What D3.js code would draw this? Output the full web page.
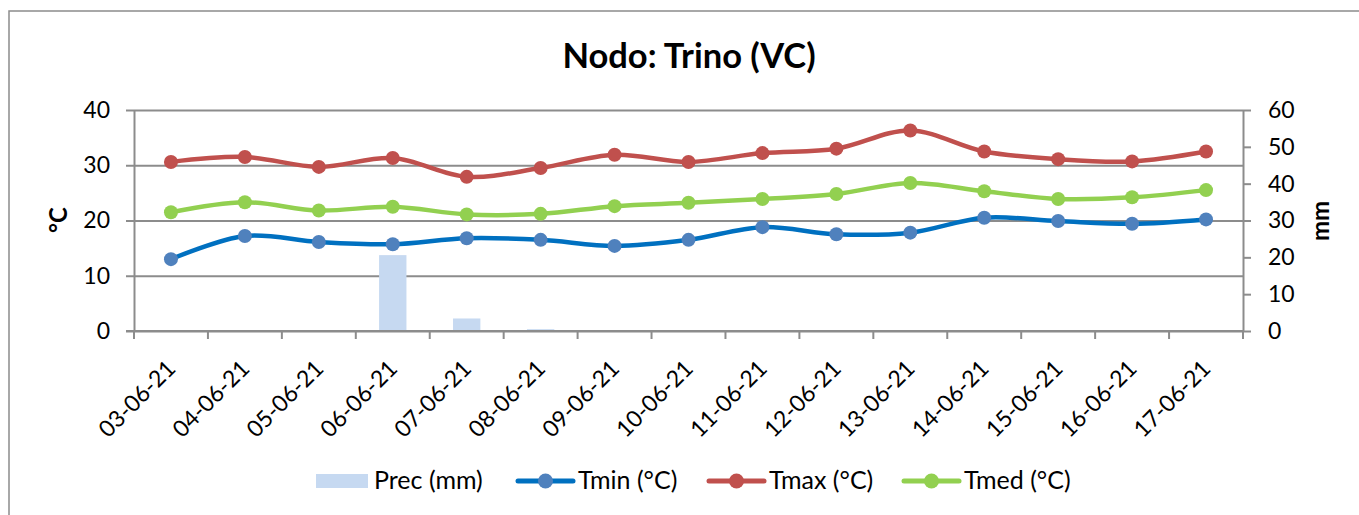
<!DOCTYPE html>
<html>
<head>
<meta charset="utf-8">
<script src="https://cdn.jsdelivr.net/npm/d3@7"></script>
<style>
  body { margin: 0; background: #fff; }
  svg { display: block; font-family: Lato, "Liberation Sans", sans-serif; }
</style>
</head>
<body>
<svg id="chart" width="1359" height="515"></svg>
<script>
// data
var dates = ["03-06-21","04-06-21","05-06-21","06-06-21","07-06-21","08-06-21","09-06-21",
             "10-06-21","11-06-21","12-06-21","13-06-21","14-06-21","15-06-21","16-06-21","17-06-21"];
var prec = [0, 0, 0, 20.6, 3.4, 0.5, 0, 0, 0, 0, 0, 0, 0, 0, 0];
var tmin = [13.0, 17.2, 16.1, 15.7, 16.8, 16.5, 15.4, 16.5, 18.8, 17.5, 17.8, 20.5, 19.9, 19.4, 20.2];
var tmax = [30.6, 31.5, 29.7, 31.3, 27.9, 29.5, 31.9, 30.6, 32.2, 33.0, 36.3, 32.5, 31.1, 30.7, 32.5];
var tmed = [21.5, 23.3, 21.8, 22.5, 21.1, 21.2, 22.6, 23.2, 23.9, 24.8, 26.8, 25.3, 23.9, 24.2, 25.5];
var leftTicks = [0, 10, 20, 30, 40];
var rightTicks = [0, 10, 20, 30, 40, 50, 60];

var series = [
  {name: "Tmin (°C)", values: tmin, line: "#0070c0", dot: "#4f81bd"},
  {name: "Tmax (°C)", values: tmax, line: "#c0504d", dot: "#c0504d"},
  {name: "Tmed (°C)", values: tmed, line: "#92d050", dot: "#92d050"}
];

var grey = "#8c8c8c";
var plot = {left: 134, right: 1243, top: 110, bottom: 331};

var svg = d3.select("#chart");

// chart border
svg.append("rect")
  .attr("x", 9).attr("y", 11)
  .attr("width", 1370).attr("height", 530)
  .attr("fill", "none")
  .attr("stroke", grey)
  .attr("stroke-width", 1.5);

svg.append("text")
  .attr("x", 689).attr("y", 68)
  .attr("text-anchor", "middle")
  .style("font-size", "34.5px")
  .style("font-weight", "bold")
  .text("Nodo: Trino (VC)");

var x = d3.scaleBand().domain(dates).range([plot.left, plot.right]);
var yL = d3.scaleLinear().domain([0, 40]).range([plot.bottom, plot.top]);
var yR = d3.scaleLinear().domain([0, 60]).range([plot.bottom, plot.top]);
var bw = x.bandwidth();

// gridlines
var grid = svg.append("g")
  .attr("transform", "translate(" + plot.left + ",0)")
  .call(d3.axisLeft(yL).tickValues(leftTicks).tickSize(-(plot.right - plot.left)).tickFormat(""));
grid.select(".domain").remove();
grid.selectAll("line").attr("stroke", grey).attr("stroke-width", 2);

// bars (right axis)
svg.append("g").selectAll("rect")
  .data(prec)
  .join("rect")
  .attr("x", function(d, i) { return x(dates[i]) + bw * 0.315; })
  .attr("width", bw * 0.37)
  .attr("y", function(d) { return yR(d); })
  .attr("height", function(d) { return plot.bottom - yR(d); })
  .attr("fill", "#c6d9f1");

// left axis
var axL = svg.append("g")
  .attr("transform", "translate(" + plot.left + ",0)")
  .call(d3.axisLeft(yL).tickValues(leftTicks).tickSize(8).tickPadding(16).tickSizeOuter(0));
axL.selectAll("line, path").attr("stroke", grey).attr("stroke-width", 2);
axL.selectAll("text").style("font-size", "23px").attr("fill", "#000")
  .style("font-family", "Lato, sans-serif");

// right axis
var axR = svg.append("g")
  .attr("transform", "translate(" + plot.right + ",0)")
  .call(d3.axisRight(yR).tickValues(rightTicks).tickSize(8).tickPadding(17).tickSizeOuter(0));
axR.selectAll("line, path").attr("stroke", grey).attr("stroke-width", 2);
axR.selectAll("text").style("font-size", "23px").attr("fill", "#000")
  .style("font-family", "Lato, sans-serif");

// bottom axis: ticks at category boundaries
var xg = svg.append("g");
xg.append("line")
  .attr("x1", plot.left - 8).attr("x2", plot.right)
  .attr("y1", plot.bottom).attr("y2", plot.bottom)
  .attr("stroke", grey).attr("stroke-width", 2);
xg.selectAll(".xt")
  .data(dates.concat([null]))
  .join("line")
  .attr("class", "xt")
  .attr("x1", function(d, i) { return i < dates.length ? x(d) : plot.right; })
  .attr("x2", function(d, i) { return i < dates.length ? x(d) : plot.right; })
  .attr("y1", plot.bottom).attr("y2", plot.bottom + 8)
  .attr("stroke", grey).attr("stroke-width", 2);
xg.selectAll(".xl")
  .data(dates)
  .join("text")
  .attr("class", "xl")
  .attr("text-anchor", "end")
  .attr("transform", function(d) {
    return "translate(" + (x(d) + bw / 2 + 6) + "," + (plot.bottom + 39) + ") rotate(-45)";
  })
  .style("font-size", "23px")
  .text(function(d) { return d; });

// axis titles
svg.append("text")
  .attr("transform", "translate(67,220) rotate(-90)")
  .attr("text-anchor", "middle")
  .style("font-size", "24px").style("font-weight", "bold")
  .text("°C");
svg.append("text")
  .attr("transform", "translate(1329,221) rotate(-90)")
  .attr("text-anchor", "middle")
  .style("font-size", "24px").style("font-weight", "bold")
  .text("mm");

// lines
var line = d3.line()
  .x(function(d, i) { return x(dates[i]) + bw / 2; })
  .y(function(d) { return yL(d); })
  .curve(d3.curveCatmullRom.alpha(0.5));

series.forEach(function(s) {
  var g = svg.append("g");
  g.append("path")
    .datum(s.values)
    .attr("d", line)
    .attr("fill", "none")
    .attr("stroke", s.line)
    .attr("stroke-width", 4.5)
    .attr("stroke-linejoin", "round");
  g.selectAll("circle")
    .data(s.values)
    .join("circle")
    .attr("cx", function(d, i) { return x(dates[i]) + bw / 2; })
    .attr("cy", function(d) { return yL(d); })
    .attr("r", 7)
    .attr("fill", s.dot);
});

// legend
var legend = svg.append("g").style("font-size", "25px");
legend.append("rect")
  .attr("x", 316).attr("y", 474)
  .attr("width", 52).attr("height", 14)
  .attr("fill", "#c6d9f1");
legend.append("text").attr("x", 374).attr("y", 489).text("Prec (mm)");

var legX = [518, 709, 904];
series.forEach(function(s, i) {
  var lx = legX[i];
  legend.append("line")
    .attr("x1", lx).attr("x2", lx + 55)
    .attr("y1", 481).attr("y2", 481)
    .attr("stroke", s.line).attr("stroke-width", 5)
    .attr("stroke-linecap", "round");
  legend.append("circle")
    .attr("cx", lx + 27.5).attr("cy", 481).attr("r", 7.5)
    .attr("fill", s.dot);
  legend.append("text").attr("x", lx + 60).attr("y", 489).text(s.name);
});
</script>
</body>
</html>
